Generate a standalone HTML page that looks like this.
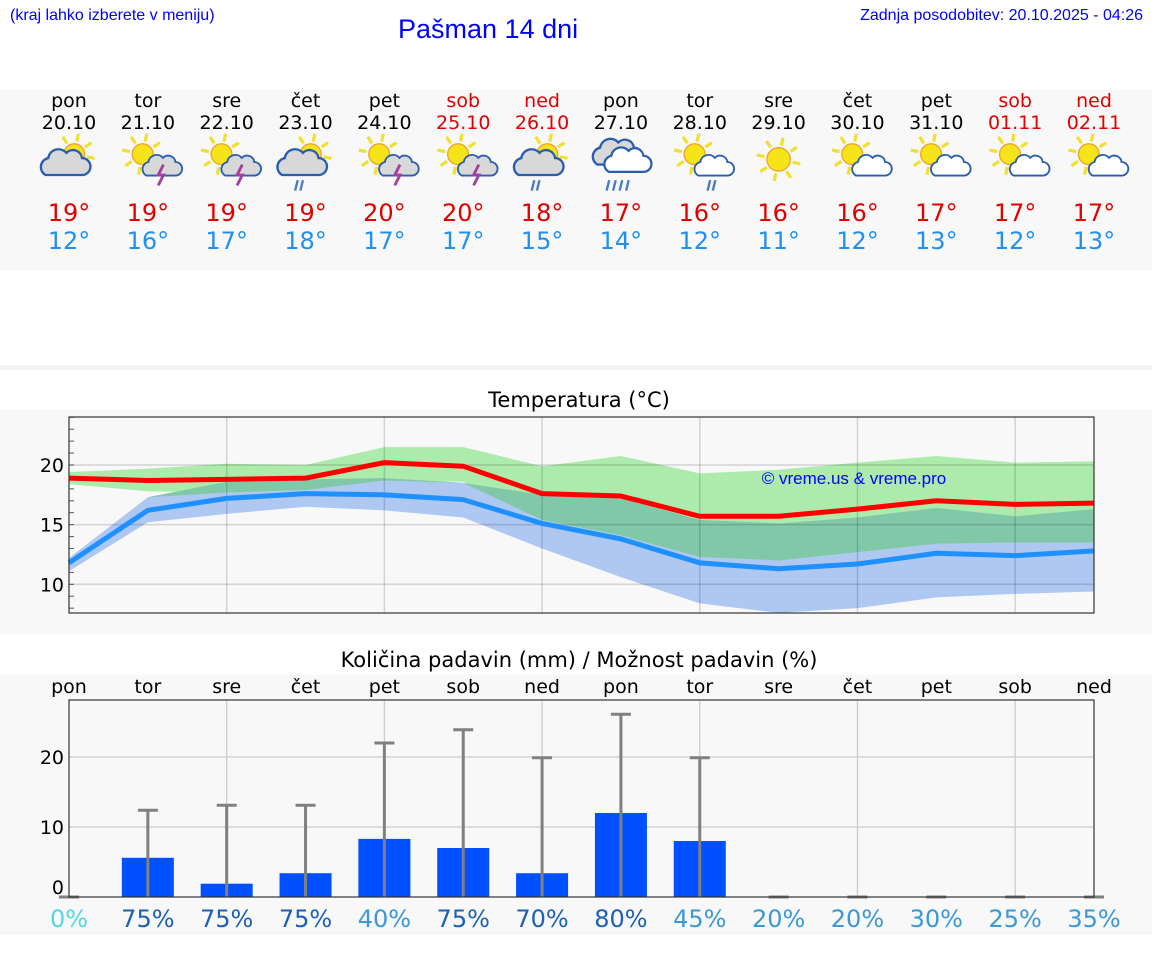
<!DOCTYPE html>
<html><head><meta charset="utf-8">
<style>
body{margin:0;width:1152px;height:975px;background:#fff;position:relative;overflow:hidden;font-family:"DejaVu Sans","Liberation Sans",sans-serif}
.abs{position:absolute}
.hdr{font-family:"Liberation Sans",sans-serif;color:#0000ff}
</style></head><body>
<div class="abs hdr" style="left:10px;top:7px;font-size:16px">(kraj lahko izberete v meniju)</div>
<div class="abs hdr" style="left:398px;top:14px;font-size:27px">Pašman 14 dni</div>
<div class="abs hdr" style="right:9px;top:7px;font-size:16px">Zadnja posodobitev: 20.10.2025 - 04:26</div>
<div class="abs" style="left:0;top:90px;width:1152px;height:180px;background:#f8f8f8"></div>
<div class="abs" style="left:0;top:365px;width:1152px;height:5px;background:#f4f4f4"></div>
<div class="abs" style="left:0;top:410px;width:1152px;height:225px;background:#f8f8f8"></div>
<div class="abs" style="left:0;top:675px;width:1152px;height:260px;background:#f8f8f8"></div>
<svg id="s" class="abs" style="left:0;top:0" width="1152" height="975"></svg>
<script>
const days=["pon","tor","sre","čet","pet","sob","ned","pon","tor","sre","čet","pet","sob","ned"];
const dates=["20.10","21.10","22.10","23.10","24.10","25.10","26.10","27.10","28.10","29.10","30.10","31.10","01.11","02.11"];
const icons=["pcloud","storm","storm","prain","storm","storm","prain","rain","crain","sun","csun","csun","csun","csun"];
const tmax=[19,19,19,19,20,20,18,17,16,16,16,17,17,17];
const tmin=[12,16,17,18,17,17,15,14,12,11,12,13,12,13];
const maxLine=[18.9,18.7,18.8,18.9,20.2,19.9,17.6,17.4,15.7,15.7,16.3,17.0,16.7,16.8];
const minLine=[11.8,16.2,17.2,17.6,17.5,17.1,15.1,13.8,11.8,11.3,11.7,12.6,12.4,12.8];
const maxHi=[19.4,19.7,20.1,20.0,21.5,21.5,19.9,20.75,19.3,19.6,20.2,20.75,20.2,20.3];
const maxLo=[18.4,17.8,17.7,17.9,18.7,18.6,15.4,14.1,12.3,12.0,12.7,13.4,13.5,13.5];
const minHi=[12.2,17.3,18.6,18.8,18.9,18.5,17.5,17.2,15.4,15.1,15.6,16.4,15.7,16.3];
const minLo=[11.1,15.2,15.9,16.5,16.2,15.6,13.0,10.6,8.4,7.6,8.0,8.9,9.2,9.4];
const precip=[0,5.6,1.9,3.4,8.3,7.0,3.4,12.0,8.0,0,0,0,0,0];
const precipMax=[0,12.4,13.1,13.1,22.0,23.9,19.9,26.1,19.9,0,0,0,0,0];
const prob=[0,75,75,75,40,75,70,80,45,20,20,30,25,35];
const tTicks=[10,15,20];
const pTicks=[0,10,20];
const S=document.getElementById('s');const NS="http://www.w3.org/2000/svg";
function el(t,a,p){const e=document.createElementNS(NS,t);for(const k in a)e.setAttribute(k,a[k]);(p||S).appendChild(e);return e;}
const X=i=>69+i*(1094-69)/13;
const TY=v=>465-(v-20)*11.93;
const PY=v=>897-v*7;
function txt(x,y,s,size,fill,anchor,name){const t=el('text',{x:x,y:y,'font-size':size,fill:fill,'text-anchor':anchor||'middle'});t.textContent=s;

return t;}
let G=S;
function sun(cx,cy,r){const g=el('g',{},G);for(let k=0;k<8;k++){const a=k*Math.PI/4+0.2;el('line',{x1:cx+Math.cos(a)*(r+2),y1:cy+Math.sin(a)*(r+2),x2:cx+Math.cos(a)*(r+8),y2:cy+Math.sin(a)*(r+8),stroke:'#f0e030','stroke-width':2.5},g);}
el('circle',{cx:cx,cy:cy,r:r,fill:'#f4e418',stroke:'#f0a030','stroke-width':1},g);}
function cloud(cx,cy,s,fill){const g=el('g',{fill:fill,stroke:'#2a5db0','stroke-width':1.8,transform:`translate(${cx},${cy}) scale(${s})`},G);
el('path',{d:`M-14,8 a7 7 0 0 1 2,-13 a8 8 0 0 1 14,-4 a7 7 0 0 1 12,4 a6 6 0 0 1 0,13 z`},g);}
function drawIcon(x,y,k){
 G=el('g',{transform:`translate(${x},${y}) scale(1.3)`});
 x=0;y=0;
 if(k=='sun'){sun(0,-2,9);return;}
 if(k=='rain'){cloud(-4,-6,1,'#d8d8d8');cloud(4,0,0.95,'#fff');}
 else if(k=='pcloud'||k=='prain'){sun(4,-6,8);cloud(-4,2,1,'#d8d8d8');}
 else {sun(-4,-6,8);cloud(10,4,0.8,k=='storm'?'#d8d8d8':'#fff');}
 if(k=='storm')el('path',{d:`M12,2 l-4,8 h4 l-4,8`,stroke:'#a040a0','stroke-width':2.2,fill:'none'},G);
 if(k=='prain'||k=='crain'){const ox=k=='crain'?8:-6;for(let j=0;j<2;j++)el('line',{x1:ox+j*4,y1:14,x2:ox-2+j*4,y2:22,stroke:'#4a7ac0','stroke-width':1.8},G);}
 if(k=='rain'){for(let j=0;j<4;j++)el('line',{x1:-9+j*5,y1:14,x2:-11+j*5,y2:22,stroke:'#4a7ac0','stroke-width':1.8},G);}
}
days.forEach((d,i)=>{const we=(i%7==5||i%7==6);const c=we?'#e00000':'#000';
txt(X(i),107,d,19,c,'middle','day-name');txt(X(i),129,dates[i],19,c,'middle','day-date');
txt(X(i),221,tmax[i]+'°',24,'#e00000','middle','max-temp');txt(X(i),249,tmin[i]+'°',24,'#2090f0','middle','min-temp');
drawIcon(X(i),162,icons[i]);G=S;});
// temperature chart
txt(579,407,'Temperatura (°C)',21,'#000','middle','temp-chart-title');
function poly(hi,lo,col,name){let d='M'+hi.map((v,i)=>X(i)+','+TY(v)).join(' L')+' L'+lo.map((v,i)=>X(i)+','+TY(v)).reverse().join(' L')+'Z';const p=el('path',{d:d,fill:col});

}
poly(minHi,minLo,'#aec8f2','min-temp-band');
poly(maxHi,maxLo,'#acebac','max-temp-band');
const ovTop=minHi.map((v,i)=>Math.min(v,maxHi[i]));
const ovBot=maxLo.map((v,i)=>Math.min(Math.max(v,minLo[i]),ovTop[i]));
poly(ovTop,ovBot,'#80c8a8','temp-band-overlap');
for(let i=2;i<13;i+=2)el('line',{x1:X(i),y1:417,x2:X(i),y2:613,stroke:'rgba(0,0,0,0.15)','stroke-width':1.5});
tTicks.forEach(v=>{el('line',{x1:69,y1:TY(v),x2:1094,y2:TY(v),stroke:'rgba(0,0,0,0.15)','stroke-width':1.5});txt(64,TY(v)+7,String(v),19,'#000','end','y-tick-label');});
for(let v=8;v<=24;v++)el('line',{x1:69,y1:TY(v),x2:74,y2:TY(v),stroke:'#555','stroke-width':1});
function line(a,c,name){const p=el('polyline',{points:a.map((v,i)=>X(i)+','+TY(v)).join(' '),fill:'none',stroke:c,'stroke-width':5,'stroke-linejoin':'round'});

}
line(minLine,'#1e90ff','min-temp-line');line(maxLine,'#ff0000','max-temp-line');
el('rect',{x:69,y:417,width:1025,height:196,fill:'none',stroke:'#333','stroke-width':1.2});
const wm=el('text',{x:854,y:484,'font-size':17,fill:'#0000ff','text-anchor':'middle','font-family':'Liberation Sans,sans-serif'});wm.textContent='© vreme.us & vreme.pro';


// precip chart
txt(579,667,'Količina padavin (mm) / Možnost padavin (%)',21,'#000','middle','precip-chart-title');
days.forEach((d,i)=>txt(X(i),693,d,19,'#000','middle','precip-day-name'));
for(let i=2;i<13;i+=2)el('line',{x1:X(i),y1:700,x2:X(i),y2:897,stroke:'#ccc','stroke-width':1.3});
pTicks.forEach(v=>{if(v>0)el('line',{x1:69,y1:PY(v),x2:1094,y2:PY(v),stroke:'#ccc','stroke-width':1.3});txt(64,PY(v)+7-(v==0?10:0),String(v),19,'#000','end','precip-tick-label');});
precip.forEach((v,i)=>{if(v>0){const r=el('rect',{x:X(i)-26,y:PY(v),width:52,height:897-PY(v),fill:'#0050ff'});

}
const g=el('g',{stroke:'#808080','stroke-width':3});


el('line',{x1:X(i),y1:897,x2:X(i),y2:PY(precipMax[i])},g);el('line',{x1:X(i)-10,y1:PY(precipMax[i]),x2:X(i)+10,y2:PY(precipMax[i])},g);
const pc=prob[i];const c=pc<=10?'#50d8e8':pc<=50?'#3a98d8':'#1a60b8';
txt(X(i),927,pc+'%',24,c,'middle','precip-probability');});
el('rect',{x:69,y:700,width:1025,height:197,fill:'none',stroke:'#333','stroke-width':1.2});
</script>
</body></html>
